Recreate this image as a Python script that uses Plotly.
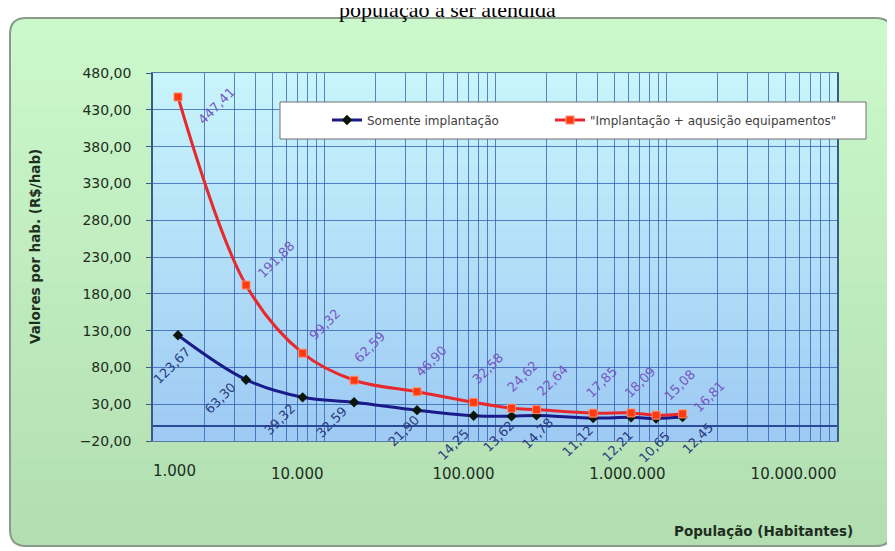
import math
import plotly.graph_objects as go

# ---------------- data ----------------
populacao = [1400, 3500, 7500, 15000, 35000, 75000, 125000, 175000, 375000, 625000, 875000, 1250000]
somente_implantacao = [123.67, 63.30, 39.32, 32.59, 21.90, 14.25, 13.62, 14.78, 11.12, 12.21, 10.65, 12.45]
implantacao_equip = [447.41, 191.88, 99.32, 62.59, 46.90, 32.58, 24.62, 22.64, 17.85, 18.09, 15.08, 16.81]
serie_nomes = ["Somente implantação", "\"Implantação + aqusição equipamentos\""]
titulo = "população a ser atendida"
titulo_x = "População (Habitantes)"
titulo_y = "Valores por hab. (R$/hab)"
x_decadas = [1000, 10000, 100000, 1000000, 10000000]

# ---------------- styles / layout geometry ----------------
W, H = 895, 551
OFF = 8                       # page body margin of the html page
# plot area in screen pixels
SL, SR, ST, SB = 153, 837, 73, 441
L, R, T, B = SL - OFF, SR - OFF, ST - OFF, SB - OFF
FONT = "DejaVu Sans"

# label offsets (pixels, from point to label centre)
blue_off = [(-6, 30), (-26, 19), (-23, 22), (-23, 20), (-14, 21), (-20, 29),
            (-13, 20), (1, 18), (-16, 23), (-14, 29), (-2, 29), (15, 21)]
red_off = [(39, 9), (30, -26), (22, -29), (15, -33), (14, -30), (14, -34),
           (11, -32), (16, -29), (8, -31), (9, -30), (23, -30), (27, -17)]


def px2x(px):
    return (px - OFF - L) / (R - L)


def py2y(py):
    return (B - (py - OFF)) / (B - T)


def lerp(c0, c1, t):
    return "rgb(%d,%d,%d)" % tuple(round(a + (b - a) * t) for a, b in zip(c0, c1))


def fmt(v):
    return f"{v:.2f}".replace(".", ",")


def fmt_int(v):
    return f"{v:,}".replace(",", ".")


shapes = []

# green chart background (rounded, vertical gradient)
gx0, gx1, gy0, gy1, rad = 10, 892, 18, 546, 16
g_top, g_bot = (204, 249, 204), (178, 222, 178)
N = 24
step = (gy1 - gy0) / N
X0, X1 = px2x(gx0), px2x(gx1)
for i in range(N):
    ya, yb = gy0 + i * step, gy0 + (i + 1) * step + 0.6
    col = lerp(g_top, g_bot, i / (N - 1))
    if i == 0:
        path = (f"M {X0},{py2y(yb)} L {X0},{py2y(gy0 + rad)} Q {X0},{py2y(gy0)} {px2x(gx0 + rad)},{py2y(gy0)} "
                f"L {px2x(gx1 - rad)},{py2y(gy0)} Q {X1},{py2y(gy0)} {X1},{py2y(gy0 + rad)} L {X1},{py2y(yb)} Z")
    elif i == N - 1:
        path = (f"M {X0},{py2y(ya)} L {X0},{py2y(gy1 - rad)} Q {X0},{py2y(gy1)} {px2x(gx0 + rad)},{py2y(gy1)} "
                f"L {px2x(gx1 - rad)},{py2y(gy1)} Q {X1},{py2y(gy1)} {X1},{py2y(gy1 - rad)} L {X1},{py2y(ya)} Z")
    else:
        path = f"M {X0},{py2y(ya)} L {X1},{py2y(ya)} L {X1},{py2y(yb)} L {X0},{py2y(yb)} Z"
    shapes.append(dict(type="path", xref="paper", yref="paper", path=path,
                       fillcolor=col, line=dict(width=0), layer="below"))
border = (f"M {X0},{py2y(gy0 + rad)} Q {X0},{py2y(gy0)} {px2x(gx0 + rad)},{py2y(gy0)} "
          f"L {px2x(gx1 - rad)},{py2y(gy0)} Q {X1},{py2y(gy0)} {X1},{py2y(gy0 + rad)} "
          f"L {X1},{py2y(gy1 - rad)} Q {X1},{py2y(gy1)} {px2x(gx1 - rad)},{py2y(gy1)} "
          f"L {px2x(gx0 + rad)},{py2y(gy1)} Q {X0},{py2y(gy1)} {X0},{py2y(gy1 - rad)} Z")
shapes.append(dict(type="path", xref="paper", yref="paper", path=border,
                   line=dict(color="#8a9a8a", width=2), layer="below"))

# plot area gradient
p_top, p_bot = (200, 244, 252), (158, 202, 244)
NP = 24
pstep = (SB - ST) / NP
for i in range(NP):
    ya, yb = ST + i * pstep, ST + (i + 1) * pstep + (0.6 if i < NP - 1 else 0)
    shapes.append(dict(type="rect", xref="paper", yref="paper",
                       x0=0, x1=1, y0=py2y(yb), y1=py2y(ya),
                       fillcolor=lerp(p_top, p_bot, i / (NP - 1)), line=dict(width=0), layer="below"))

# legend box
shapes.append(dict(type="rect", xref="paper", yref="paper",
                   x0=px2x(280), x1=px2x(866), y0=py2y(139), y1=py2y(102),
                   fillcolor="white", line=dict(color="#707070", width=1), layer="above"))

fig = go.Figure()
fig.add_trace(go.Scatter(
    x=populacao, y=somente_implantacao, name=serie_nomes[0], mode="lines+markers",
    line=dict(color="#1a1a8a", width=3, shape="spline", smoothing=1),
    marker=dict(symbol="diamond", size=8, color="#0a160a"), legend="legend",
))
fig.add_trace(go.Scatter(
    x=populacao, y=implantacao_equip, name=serie_nomes[1], mode="lines+markers",
    line=dict(color="#e8282c", width=3, shape="spline", smoothing=1),
    marker=dict(symbol="square", size=8, color="#ff3a10", line=dict(color="#ff9070", width=1)),
    legend="legend2",
))
# helper trace for the overlay axis that carries the first tick label
fig.add_trace(go.Scatter(x=[], y=[], xaxis="x2", showlegend=False, hoverinfo="skip"))

annotations = []
for xv, yv, (dx, dy) in zip(populacao, somente_implantacao, blue_off):
    annotations.append(dict(x=math.log10(xv), y=yv, xref="x", yref="y", text=fmt(yv),
                            showarrow=False, textangle=-45, xanchor="center", yanchor="middle",
                            xshift=dx, yshift=-dy, font=dict(family=FONT, size=13, color="#2a3a80")))
for xv, yv, (dx, dy) in zip(populacao, implantacao_equip, red_off):
    annotations.append(dict(x=math.log10(xv), y=yv, xref="x", yref="y", text=fmt(yv),
                            showarrow=False, textangle=-45, xanchor="center", yanchor="middle",
                            xshift=dx, yshift=-dy, font=dict(family=FONT, size=13, color="#7658c4")))
annotations.append(dict(x=px2x(447), y=py2y(10), xref="paper", yref="paper", text=titulo,
                        showarrow=False, xanchor="center", yanchor="middle",
                        font=dict(family="Liberation Serif", size=22, color="black")))
annotations.append(dict(x=px2x(35), y=py2y(247), xref="paper", yref="paper", text=titulo_y,
                        showarrow=False, textangle=-90, xanchor="center", yanchor="middle",
                        font=dict(family=FONT, size=13.5, color="#1e2e1e", weight="bold")))
annotations.append(dict(x=px2x(763), y=py2y(531), xref="paper", yref="paper", text=titulo_x,
                        showarrow=False, xanchor="center", yanchor="middle",
                        font=dict(family=FONT, size=13.5, color="#1e2e1e", weight="bold")))

# grid values (every integer multiple within each decade)
grid_vals, grid_text = [], []
for d in x_decadas[:-1]:
    for k in range(1, 10):
        grid_vals.append(d * k)
        grid_text.append(fmt_int(d) if (k == 1 and d != x_decadas[0]) else "")
grid_vals.append(x_decadas[-1])
grid_text.append(fmt_int(x_decadas[-1]))

gridcol = "rgba(40,88,170,0.72)"
legfont = dict(family=FONT, size=12, color="#404040")
fig.update_layout(
    width=W, height=H,
    margin=dict(l=L, r=W - R, t=T, b=H - B),
    paper_bgcolor="white", plot_bgcolor="rgba(0,0,0,0)",
    separators=",.",
    shapes=shapes, annotations=annotations,
    showlegend=True,
    legend=dict(orientation="h", x=px2x(327), y=py2y(120), xanchor="left", yanchor="middle",
                bgcolor="rgba(0,0,0,0)", borderwidth=0, font=legfont),
    legend2=dict(orientation="h", x=px2x(550), y=py2y(120), xanchor="left", yanchor="middle",
                 bgcolor="rgba(0,0,0,0)", borderwidth=0, font=legfont),
    xaxis=dict(type="log", range=[3, 7], tickvals=grid_vals, ticktext=grid_text,
               ticklabelposition="outside left", ticks="", showgrid=True, gridcolor=gridcol, gridwidth=1,
               showline=True, linecolor="#5a7aa0", linewidth=1, mirror=True,
               tickfont=dict(family=FONT, size=15, color="#1e2e1e"), ticklabelstandoff=19),
    xaxis2=dict(type="log", range=[3, 7], overlaying="x", anchor="y", side="bottom",
                tickvals=[x_decadas[0]], ticktext=[fmt_int(x_decadas[0])],
                ticklabelposition="outside right", ticks="", showgrid=False, showline=False,
                zeroline=False, tickfont=dict(family=FONT, size=15, color="#1e2e1e"), ticklabelstandoff=19),
    yaxis=dict(range=[-20, 480], tick0=-20, dtick=50, tickformat=".2f",
               showgrid=True, gridcolor=gridcol, gridwidth=1,
               zeroline=True, zerolinecolor="#2a4a9a", zerolinewidth=2,
               showline=True, linecolor="#3a5a8a", linewidth=1.5, mirror=True,
               ticks="outside", ticklen=5, tickcolor="#3a5a8a", ticklabelstandoff=12,
               tickfont=dict(family=FONT, size=14, color="#1e2e1e")),
)

fig.write_html("out.html")
